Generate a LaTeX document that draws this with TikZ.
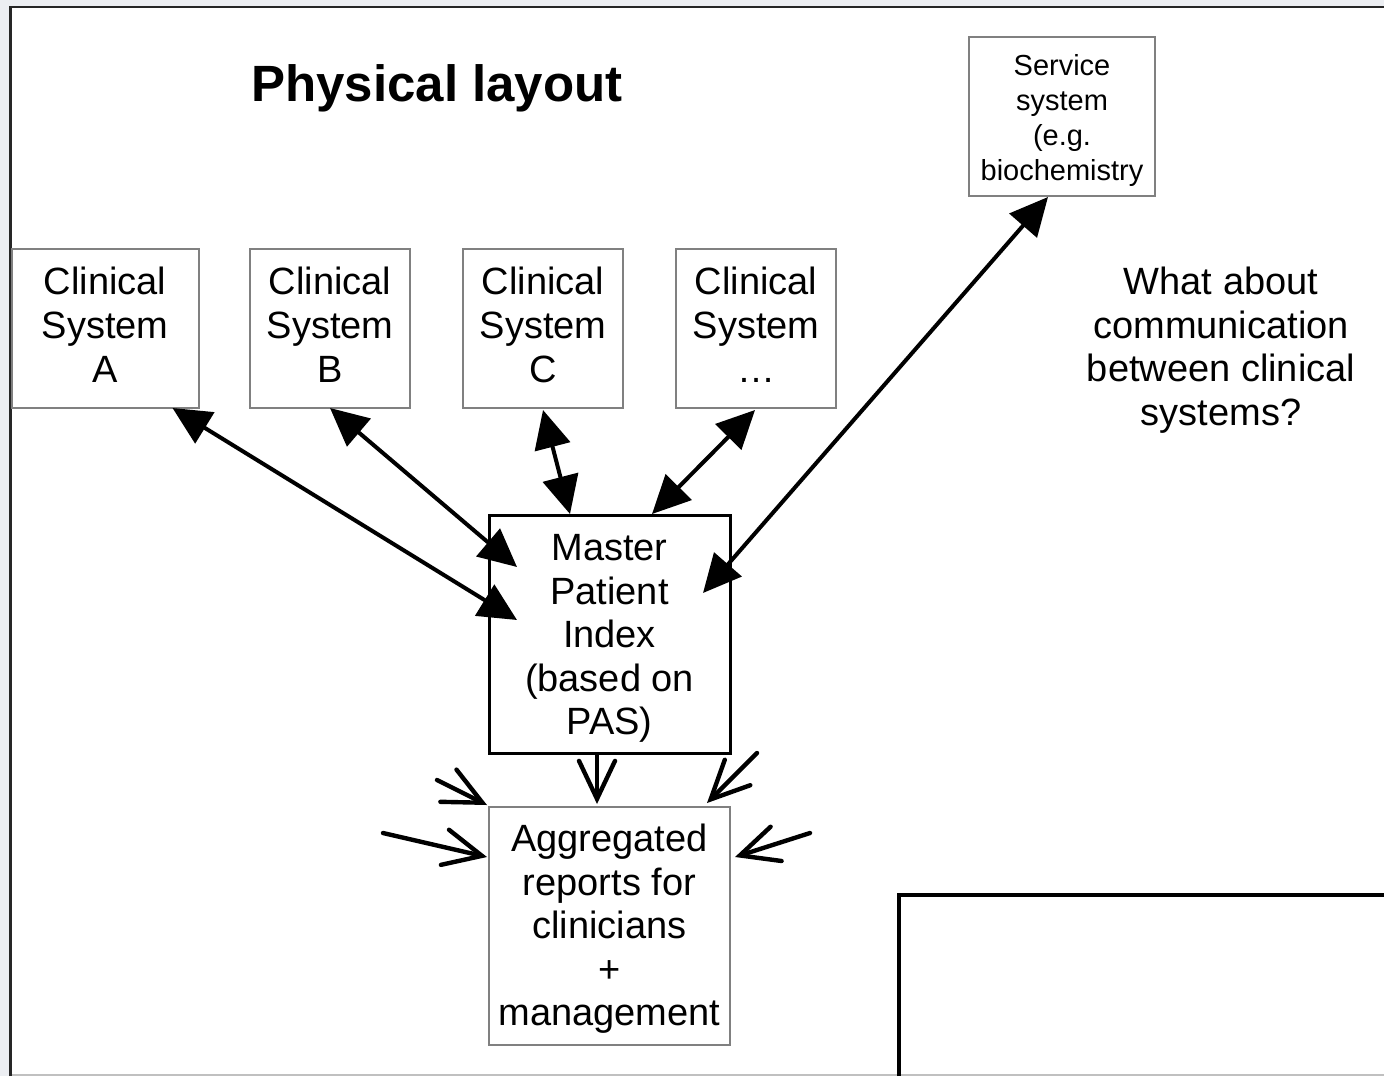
\documentclass[tikz,border=0pt]{standalone}
\usepackage{fontspec}
\setmainfont{Liberation Sans}
\usetikzlibrary{arrows.meta,calc}
\definecolor{bgout}{RGB}{236,238,242}
\definecolor{boxgray}{RGB}{128,128,128}
\begin{document}
\begin{tikzpicture}[x=0.5pt,y=-0.5pt,
  sys/.style={draw=boxgray,line width=1pt,fill=white,inner sep=0pt,outer sep=0pt,align=center,
    font=\fontsize{19}{22}\selectfont},
  mpi/.style={sys,draw=black,line width=1.5pt,font=\fontsize{19}{21.75}\selectfont},
  svc/.style={sys,font=\fontsize{14.5}{17.5}\selectfont},
  dbl/.style={line width=2pt,{Triangle[length=19pt,width=18pt]}-{Triangle[length=19pt,width=18pt]}},
  feed/.style={line width=2.2pt,line cap=round,-{Straight Barb[length=19pt,width=18pt,line cap=round]}}]
\fill[bgout] (0,0) rectangle (1384,1076);
\useasboundingbox (0,0) rectangle (1384,1076);
\fill[white] (10.5,7) rectangle (1384,1074);
\draw[boxgray!50,line width=1pt] (10.5,1074.5) -- (1384,1074.5);
\draw[black!85,line width=1.2pt] (10.5,1076) -- (10.5,7) -- (1384,7);

\node[font=\bfseries\fontsize{25.5}{30}\selectfont,anchor=base] (title) at (437,101) {Physical layout};

\node[sys,minimum width=93.5pt,minimum height=79.5pt] (A) at (105,328.5) {Clinical\\System\\A\rule[-4pt]{0pt}{0pt}};
\node[sys,minimum width=80pt,minimum height=79.5pt] (B) at (330,328.5) {Clinical\\System\\B\rule[-4pt]{0pt}{0pt}};
\node[sys,minimum width=80pt,minimum height=79.5pt] (C) at (543,328.5) {Clinical\\System\\C\rule[-4pt]{0pt}{0pt}};
\node[sys,minimum width=80pt,minimum height=79.5pt] (D) at (756,328.5) {Clinical\\System\\…\rule[-4pt]{0pt}{0pt}};
\node[svc,minimum width=93pt,minimum height=79.5pt] (S) at (1062,116.5) {\rule{0pt}{14.6pt}Service\\system\\(e.g.\\biochemistry};

\node[mpi,minimum width=120.5pt,minimum height=119pt] (M) at (609.5,634) {\rule{0pt}{17.9pt}Master\\Patient\\Index\\(based on\\PAS)};
\node[sys,minimum width=120.5pt,minimum height=119pt,font=\fontsize{19}{21.75}\selectfont] (G) at (609.5,926) {\rule{0pt}{16.9pt}Aggregated\\reports for\\clinicians\\+\\management};

\node[align=center,font=\fontsize{19}{21.75}\selectfont] (Q) at (1221,350) {What about\\communication\\between clinical\\systems?};

\draw[line width=2pt] (899,1076) -- (899,895) -- (1384,895);

\draw[dbl] ($(A.south east)+(-26,0)$) -- ($(M.north west)+(28,105)$);
\draw[dbl] ($(B.south)+(0,0)$) -- ($(M.north west)+(28,52)$);
\draw[dbl] ($(C.south)+(0,2)$) -- ($(M.north west)+(81,-1)$);
\draw[dbl] ($(D.south)+(-1,2)$) -- ($(M.north west)+(163,-1)$);
\draw[dbl] ($(S.south)+(-14,1)$) -- ($(M.north east)+(-27,78)$);

\coordinate (f1) at (437,780);
\coordinate (f2) at (383,833);
\coordinate (f3) at (757,753);
\coordinate (f4) at (810,833);
\draw[feed] ($(M.south)+(-12.5,2)$) -- ($(G.north)+(-12.5,-3)$);
\draw[feed] (f1) -- ($(G.north west)+(-2,-2)$);
\draw[feed] (f2) -- ($(G.north west)+(-2,50)$);
\draw[feed] (f3) -- ($(G.north east)+(-23,-4)$);
\draw[feed] (f4) -- ($(G.north east)+(5,50)$);
\end{tikzpicture}
\end{document}
